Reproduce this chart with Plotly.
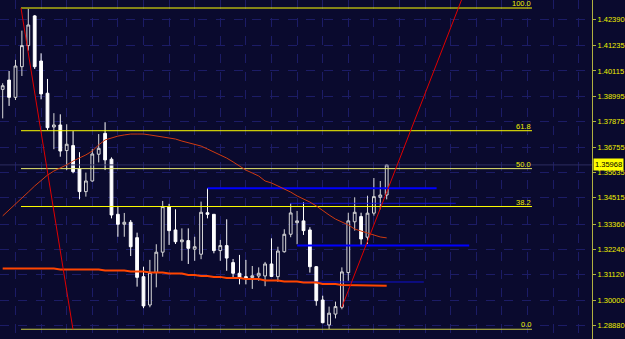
import plotly.graph_objects as go

# ---------------- data ----------------
bars = list(range(61))
opens = [1.3930, 1.3971, 1.3895, 1.4030, 1.4123, 1.4254, 1.4055, 1.3913, 1.3764, 1.3773,
         1.3660, 1.3682, 1.3579, 1.3479, 1.3526, 1.3644, 1.3736, 1.3622, 1.3379, 1.3335,
         1.3344, 1.3276, 1.3104, 1.2979, 1.3123, 1.3212, 1.3413, 1.3310, 1.3258, 1.3263,
         1.3225, 1.3203, 1.3386, 1.3379, 1.3219, 1.3241, 1.3166, 1.3119, 1.3104, 1.3100,
         1.3107, 1.3107, 1.3160, 1.3104, 1.3214, 1.3291, 1.3342, 1.3350, 1.3310, 1.3148,
         1.3001, 1.2891, 1.2939, 1.2969, 1.3122, 1.3346, 1.3369, 1.3278, 1.3384, 1.3454,
         1.3464]
highs = [1.3957, 1.4011, 1.4060, 1.4189, 1.4285, 1.4258, 1.4089, 1.3976, 1.3825, 1.3820,
         1.3776, 1.3746, 1.3653, 1.3563, 1.3666, 1.3733, 1.3785, 1.3630, 1.3416, 1.3385,
         1.3354, 1.3298, 1.3148, 1.3178, 1.3247, 1.3438, 1.3425, 1.3401, 1.3317, 1.3317,
         1.3280, 1.3435, 1.3494, 1.3379, 1.3266, 1.3357, 1.3182, 1.3200, 1.3178, 1.3151,
         1.3145, 1.3169, 1.3273, 1.3236, 1.3313, 1.3428, 1.3394, 1.3432, 1.3322, 1.3151,
         1.3020, 1.2972, 1.2994, 1.3145, 1.3386, 1.3454, 1.3386, 1.3461, 1.3539, 1.3526,
         1.3601]
lows = [1.3802, 1.3857, 1.3883, 1.3989, 1.4101, 1.4020, 1.3886, 1.3751, 1.3666, 1.3633,
        1.3574, 1.3560, 1.3445, 1.3457, 1.3523, 1.3608, 1.3574, 1.3361, 1.3280, 1.3280,
        1.3195, 1.3060, 1.2965, 1.2969, 1.3057, 1.3192, 1.3244, 1.3248, 1.3174, 1.3160,
        1.3174, 1.3181, 1.3361, 1.3207, 1.3174, 1.3130, 1.3094, 1.3070, 1.3070, 1.3050,
        1.3086, 1.3062, 1.3103, 1.3081, 1.3210, 1.3278, 1.3247, 1.3288, 1.3122, 1.2976,
        1.2898, 1.2872, 1.2920, 1.2960, 1.3086, 1.3307, 1.3239, 1.3248, 1.3373, 1.3401,
        1.3445]
closes = [1.3946, 1.3895, 1.4033, 1.4123, 1.4214, 1.4030, 1.3910, 1.3761, 1.3773, 1.3658,
          1.3688, 1.3567, 1.3479, 1.3526, 1.3645, 1.3670, 1.3619, 1.3376, 1.3335, 1.3344,
          1.3236, 1.3101, 1.2975, 1.3123, 1.3212, 1.3413, 1.3307, 1.3258, 1.3266, 1.3229,
          1.3236, 1.3388, 1.3379, 1.3219, 1.3241, 1.3186, 1.3119, 1.3097, 1.3098, 1.3108,
          1.3119, 1.3160, 1.3105, 1.3217, 1.3291, 1.3385, 1.3350, 1.3307, 1.3148, 1.2998,
          1.2901, 1.2943, 1.2972, 1.3125, 1.3350, 1.3388, 1.3270, 1.3384, 1.3457, 1.3464,
          1.35968]
ma_fast = [1.3372, 1.3398, 1.3425, 1.3447, 1.3477, 1.3504, 1.3530, 1.3552, 1.3570, 1.3583,
           1.3597, 1.3614, 1.3627, 1.3641, 1.3658, 1.3685, 1.3707, 1.3716, 1.3724, 1.3729,
           1.3733, 1.3733, 1.3733, 1.3729, 1.3724, 1.3720, 1.3716, 1.3711, 1.3702, 1.3694,
           1.3685, 1.3680, 1.3667, 1.3654, 1.3641, 1.3627, 1.3610, 1.3592, 1.3574, 1.3561,
           1.3548, 1.3526, 1.3517, 1.3504, 1.3491, 1.3477, 1.3460, 1.3447, 1.3433, 1.3416,
           1.3394, 1.3376, 1.3358, 1.3345, 1.3332, 1.3314, 1.3305, 1.3297, 1.3288, 1.3279,
           1.3275]
ma_slow = ([1.3140] * 9 + [1.3136] * 7 + [1.3131] * 4 + [1.3127] * 3 + [1.3122] * 3 +
           [1.3118] * 3 + [1.3111] * 2 + [1.3107] * 2 + [1.3103] * 2 + [1.3098] * 3 +
           [1.3094] * 3 + [1.3087] * 3 + [1.3083] * 3 + [1.3078] * 3 + [1.3072] * 3 +
           [1.3067] * 4 + [1.3064] * 4)

price_ticks = [1.42390, 1.41235, 1.40115, 1.38995, 1.37875, 1.36755, 1.35635,
               1.34515, 1.33360, 1.32240, 1.31120, 1.30000, 1.28880]
tick_labels = ["1.42390", "1.41235", "1.40115", "1.38995", "1.37875", "1.36755", "1.35635",
               "1.34515", "1.33360", "1.32240", "1.31120", "1.30000", "1.28880"]

fib_ratios = [0.0, 38.2, 50.0, 61.8, 100.0]
fib_labels = ["0.0", "38.2", "50.0", "61.8", "100.0"]
fib_colors = ["#c8c840", "#ffff00", "#e8e870", "#ffff00", "#ffff00"]
fib_low = 1.28721
fib_high = 1.42888
fib_start = 2.86
fib_end = 82.7
fib_anchor_x = [2.86, 10.98]

trend_x = [53.0, 73.0]
trend_y = [1.2970, 1.4419]

blue_levels = [1.34936, 1.32418, 1.34276, 1.30805]
blue_x0 = [32.0, 46.0, 44.9, 46.5]
blue_x1 = [67.8, 72.9, 70.8, 65.8]
blue_widths = [2, 2, 1, 1]

bid_price = 1.35968
bid_text = "1.35968"

BG = "#0a0a2e"
GRID = "#1c1c66"
AXIS = "#b0b040"
TXT = "#f0f000"
FONT = "Liberation Sans"

fig = go.Figure()

# horizontal bid line
fig.add_trace(go.Scatter(x=[-1, 93], y=[bid_price, bid_price], mode="lines",
                         line=dict(color="#2c2c60", width=1), hoverinfo="skip"))

# fibonacci levels
for r, lab, col in zip(fib_ratios, fib_labels, fib_colors):
    lvl = fib_low + (fib_high - fib_low) * r / 100.0
    fig.add_trace(go.Scatter(x=[fib_start, fib_end], y=[lvl, lvl], mode="lines",
                             line=dict(color=col, width=1), hoverinfo="skip"))
    fig.add_annotation(x=fib_end, y=lvl, text=lab, showarrow=False, xanchor="right",
                       yanchor="bottom", font=dict(color=TXT, size=7.5, family=FONT),
                       borderpad=0, yshift=-1)

# blue horizontal lines
for lv, a, b, w in zip(blue_levels, blue_x0, blue_x1, blue_widths):
    fig.add_trace(go.Scatter(x=[a, b], y=[lv, lv], mode="lines",
                             line=dict(color="#0000ff" if w > 1 else "#1010d0", width=w),
                             hoverinfo="skip"))

# moving averages
fig.add_trace(go.Scatter(x=bars, y=ma_slow, mode="lines",
                         line=dict(color="#ff4500", width=2), hoverinfo="skip"))
fig.add_trace(go.Scatter(x=bars, y=ma_fast, mode="lines",
                         line=dict(color="#d03a10", width=1), hoverinfo="skip"))

# candles
fig.add_trace(go.Candlestick(
    x=bars, open=opens, high=highs, low=lows, close=closes,
    increasing=dict(line=dict(color="#d8d8d8", width=1), fillcolor=BG),
    decreasing=dict(line=dict(color="#ffffff", width=1), fillcolor="#ffffff"),
    whiskerwidth=0, hoverinfo="skip"))

# red fib trend line and red ray
fig.add_trace(go.Scatter(x=fib_anchor_x, y=[fib_high, fib_low], mode="lines",
                         line=dict(color="#e00000", width=1), hoverinfo="skip"))
fig.add_trace(go.Scatter(x=trend_x, y=trend_y, mode="lines",
                         line=dict(color="#e00000", width=1), hoverinfo="skip"))

# bid price box
fig.add_annotation(x=1.0, xref="paper", y=bid_price, text=bid_text,
                   showarrow=False, xanchor="left", yanchor="middle", xshift=1,
                   bgcolor="#ffff00", font=dict(color="#000000", size=7.5, family=FONT),
                   borderpad=1)

fig.update_layout(
    width=625, height=339,
    margin=dict(l=0, r=33, t=0, b=0),
    paper_bgcolor=BG, plot_bgcolor=BG,
    showlegend=False, boxgap=0.38,
    xaxis=dict(range=[-0.42, 92.08], rangeslider=dict(visible=False),
               showticklabels=False, ticks="", tick0=2, dtick=4,
               showgrid=True, gridcolor=GRID, griddash="dash", gridwidth=1,
               zeroline=False, showline=False),
    yaxis=dict(side="right", range=[1.28291, 1.43241],
               tickvals=price_ticks, ticktext=tick_labels,
               tickfont=dict(color=TXT, size=7.5, family=FONT),
               ticks="outside", ticklen=3, tickcolor=AXIS,
               showgrid=True, gridcolor=GRID, griddash="dash", gridwidth=1,
               showline=True, linecolor=AXIS, linewidth=1, zeroline=False),
)

fig.write_html("out.html")
